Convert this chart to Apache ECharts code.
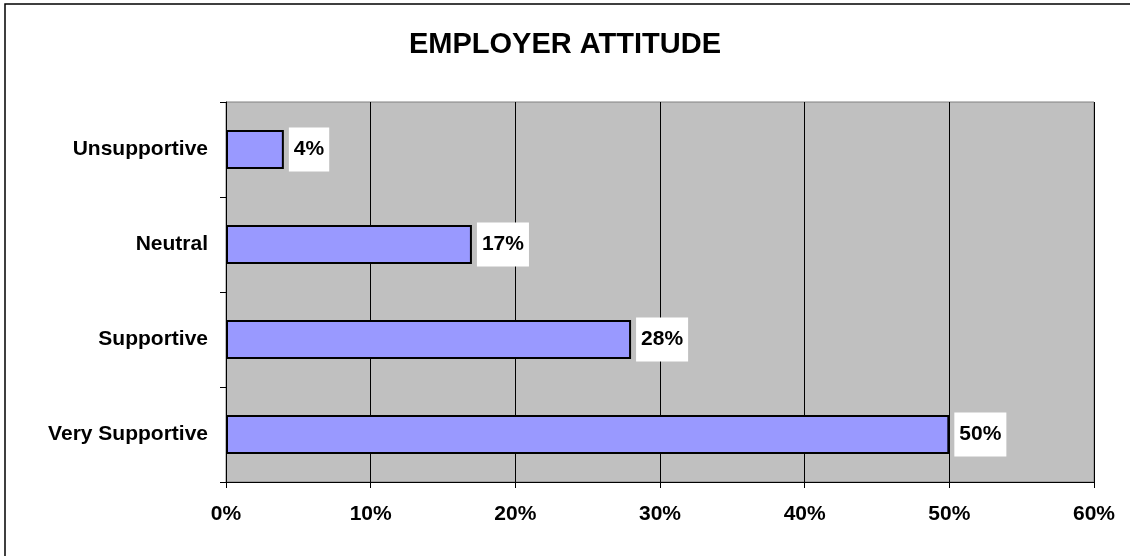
<!DOCTYPE html>
<html>
<head>
<meta charset="utf-8">
<script src="https://cdn.jsdelivr.net/npm/echarts@6/dist/echarts.min.js"></script>
<style>
  html, body { margin: 0; padding: 0; background: #ffffff; }
  #chart { width: 1130px; height: 556px; }
</style>
</head>
<body>
<div id="chart"></div>
<script>
// Survey responses: share of employers by attitude (bottom to top on the axis)
const categories = ['Very Supportive', 'Supportive', 'Neutral', 'Unsupportive'];
const shares = [50, 28, 17, 4];
const valueTicks = { min: 0, max: 60, interval: 10 };
const titleText = 'EMPLOYER ATTITUDE';

const FONT = '"Liberation Sans", Arial, Helvetica, sans-serif';

const chart = echarts.init(document.getElementById('chart'), null, { renderer: 'canvas' });

chart.setOption({
  backgroundColor: '#ffffff',
  animation: false,
  graphic: [
    {
      // outer chart frame
      type: 'rect',
      shape: { x: 5, y: 4, width: 1140, height: 570 },
      style: { fill: 'none', stroke: '#000000', lineWidth: 1.5 },
      z: 100
    },
    {
      type: 'text',
      left: 'center',
      top: 30,
      style: {
        text: titleText,
        font: 'bold 29px ' + FONT,
        fill: '#000000'
      }
    }
  ],
  grid: {
    left: 226,
    right: 36,
    top: 102,
    bottom: 74,
    show: true,
    backgroundColor: '#c0c0c0',
    borderColor: '#808080',
    borderWidth: 1
  },
  xAxis: {
    type: 'value',
    min: valueTicks.min,
    max: valueTicks.max,
    interval: valueTicks.interval,
    axisLine: { show: true, lineStyle: { color: '#000000', width: 1 } },
    axisTick: { show: true, inside: false, length: 6, lineStyle: { color: '#000000' } },
    splitLine: { show: true, lineStyle: { color: '#000000', width: 1 } },
    axisLabel: {
      formatter: '{value}%',
      margin: 22,
      color: '#000000',
      fontFamily: FONT,
      fontWeight: 'bold',
      fontSize: 21
    }
  },
  yAxis: {
    type: 'category',
    data: categories,
    boundaryGap: true,
    axisLine: { show: true, lineStyle: { color: '#000000', width: 1 } },
    axisTick: { show: true, inside: false, length: 6, alignWithLabel: false, lineStyle: { color: '#000000' } },
    splitLine: { show: false },
    axisLabel: {
      margin: 18,
      color: '#000000',
      fontFamily: FONT,
      fontWeight: 'bold',
      fontSize: 21
    }
  },
  series: [
    {
      type: 'bar',
      data: shares,
      barWidth: 39,
      itemStyle: {
        color: '#9999ff',
        borderColor: '#000000',
        borderWidth: 2
      },
      label: {
        show: true,
        position: 'right',
        distance: 5,
        formatter: '{c}%',
        color: '#000000',
        fontFamily: FONT,
        fontWeight: 'bold',
        fontSize: 21,
        backgroundColor: '#ffffff',
        padding: [12, 5, 11, 5]
      }
    }
  ]
});
</script>
</body>
</html>
